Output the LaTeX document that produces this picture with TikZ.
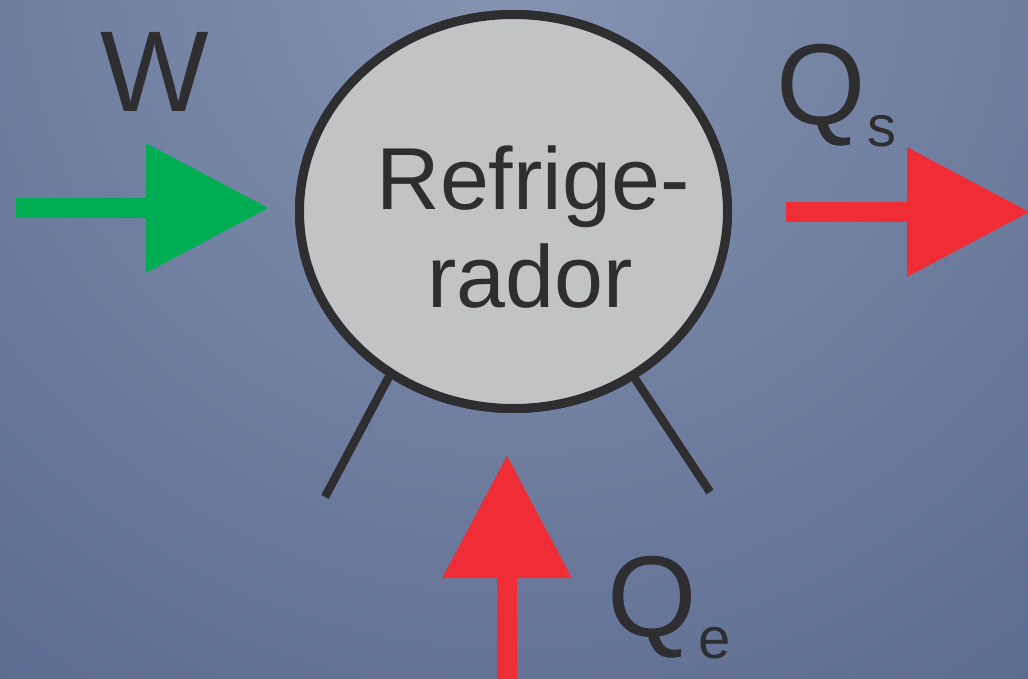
\documentclass[tikz,border=0pt]{standalone}
\usepackage{fontspec}
\setmainfont{Liberation Sans}
\usetikzlibrary{shapes.geometric,arrows.meta}
\definecolor{bgin}{RGB}{134,147,177}
\definecolor{bgout}{RGB}{64,82,122}
\definecolor{disk}{RGB}{193,195,197}
\definecolor{ink}{RGB}{46,46,48}
\definecolor{wgreen}{RGB}{0,173,82}
\definecolor{qred}{RGB}{238,45,54}
\tikzset{
  engine/.style={draw=ink, fill=disk, ellipse, line width=9pt, inner sep=0pt,
    minimum width=428pt, minimum height=394pt},
  bodytext/.style={text=ink, inner sep=0pt, anchor=base, font=\fontsize{88}{97}\selectfont},
  biglabel/.style={text=ink, inner sep=0pt, anchor=base, font=\fontsize{115}{115}\selectfont},
  leg/.style={draw=ink, line width=8.5pt},
  flow/.style={line width=20pt, -{Triangle[length=123pt,width=124pt]}},
}
\newcommand{\subs}[1]{\hspace{2pt}\raisebox{-22pt}{\fontsize{58}{58}\selectfont #1}}
\begin{document}
\begin{tikzpicture}[x=1pt,y=-1pt]
\useasboundingbox (0,0) rectangle (1028,679);
\begin{scope}
  \clip (0,0) rectangle (1028,679);
  \shade[inner color=bgin, outer color=bgout] (514,-40) circle (1480pt);
\end{scope}
% legs
\coordinate (legL) at (325,497);
\coordinate (legR) at (710,492);
\node[engine] (ref) at (513.5,211.5) {};
\draw[leg] (ref.233) -- (legL);
\draw[leg] (ref.306) -- (legR);
\node[engine] at (ref) {};
\node[bodytext] (t1) at (533,210) {Refrige-};
\node[bodytext] (t2) at (530,307) {rador};
% labels
\node[biglabel] (W) at (155,112) {W};
\node[biglabel, anchor=base west] (Qs) at (776,125) {Q\subs{s}};
\node[biglabel, anchor=base west] (Qe) at (607,636) {Q\subs{e}};
% arrows
\coordinate (w0) at (16,208);
\coordinate (w1) at (269,208);
\coordinate (s0) at (786,212);
\coordinate (s1) at (1030,212);
\coordinate (e0) at (507,690);
\coordinate (e1) at (507,455);
\draw[flow, draw=wgreen, fill=wgreen] (w0) -- (w1);
\draw[flow, draw=qred, fill=qred] (s0) -- (s1);
\draw[flow, draw=qred, fill=qred] (e0) -- (e1);
\end{tikzpicture}
\end{document}
